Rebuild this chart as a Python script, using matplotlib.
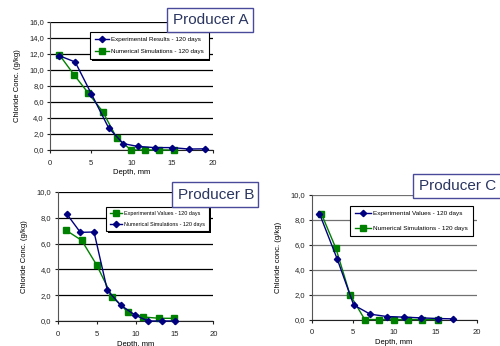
import matplotlib
matplotlib.use("Agg")
import matplotlib.pyplot as plt
from matplotlib.patches import Rectangle
from matplotlib.ticker import FuncFormatter

plt.rcParams['font.family'] = ['Liberation Sans', 'DejaVu Sans']

# ---- Producer A ----
a_exp_x = [1.1, 3.1, 5.1, 7.2, 9.0, 10.8, 12.9, 15.0, 17.1, 19.1]
a_exp_y = [11.8, 11.0, 7.0, 2.8, 0.8, 0.45, 0.3, 0.3, 0.12, 0.15]
a_num_x = [1.15, 2.96, 4.72, 6.49, 8.21, 9.98, 11.66, 13.47, 15.2]
a_num_y = [11.9, 9.4, 7.1, 4.8, 1.5, 0.0, 0.0, 0.0, 0.0]
a_labels = ["Experimental Results - 120 days", "Numerical Simulations - 120 days"]

# ---- Producer B ----
b_exp_x = [1.03, 3.08, 5.01, 7.02, 8.99, 11.0, 13.06, 15.0]
b_exp_y = [7.05, 6.25, 4.34, 1.86, 0.72, 0.31, 0.21, 0.21]
b_num_x = [1.2, 2.91, 4.67, 6.38, 8.09, 9.89, 11.6, 13.36, 15.07]
b_num_y = [8.27, 6.87, 6.9, 2.38, 1.24, 0.47, 0.0, 0.0, 0.0]
b_labels = ["Experimental Values - 120 days", "Numerical Simulations - 120 days"]

# ---- Producer C ----
c_exp_x = [0.94, 3.1, 5.09, 7.09, 9.12, 11.2, 13.28, 15.3, 17.2]
c_exp_y = [8.51, 4.85, 1.17, 0.43, 0.24, 0.19, 0.13, 0.08, 0.05]
c_num_x = [1.18, 2.93, 4.64, 6.44, 8.15, 9.94, 11.65, 13.44, 15.27]
c_num_y = [8.48, 5.73, 2.0, 0.0, 0.0, 0.0, 0.0, 0.0, 0.0]
c_labels = ["Experimental Values - 120 days", "Numerical Simulations - 120 days"]

x_ticks = [0, 5, 10, 15, 20]

W, H = 500, 346
fig = plt.figure(figsize=(W / 100, H / 100), dpi=100)

BLUE = '#000080'
GREEN = '#008000'


def ax_px(l, r, t, b):
    return fig.add_axes([l / W, 1 - b / H, (r - l) / W, (b - t) / H])


def style(ax, ymax, ylabel, gridc):
    ax.set_xlim(0, 20)
    ax.set_ylim(0, ymax)
    ax.set_xticks(x_ticks)
    ax.set_yticks([v for v in range(0, int(ymax) + 1, 2)])
    ax.yaxis.set_major_formatter(FuncFormatter(lambda v, p: f"{v:.1f}".replace('.', ',')))
    ax.tick_params(labelsize=5.5, length=2, width=0.8, direction='out', colors='#222222')
    ax.tick_params(axis='x', pad=5)
    ax.tick_params(axis='y', pad=2.5)
    for s in ['top', 'right']:
        ax.spines[s].set_visible(False)
    ax.spines['left'].set_color('#555555')
    ax.spines['bottom'].set_color('#222222')
    ax.yaxis.grid(True, color=gridc, linewidth=0.9)
    ax.set_axisbelow(True)
    ax.set_ylabel(ylabel, fontsize=5.5, labelpad=6)
    ax.set_xlabel("Depth, mm", fontsize=5.5, labelpad=2)
    ax.patch.set_alpha(0)


def plot_series(ax, x, y, kind, label):
    if kind == 'b':
        ax.plot(x, y, color=BLUE, marker='D', markersize=3.2, linewidth=1.0, label=label, clip_on=False, zorder=4)
    else:
        ax.plot(x, y, color=GREEN, marker='s', markersize=4.5, linewidth=1.0, label=label, clip_on=False, zorder=3)


legends = []


def legend(ax, x0, y0, fs, hl_px, spacing):
    fs_px = fs * 100 / 72
    leg = ax.legend(loc='upper left', bbox_to_anchor=(x0 / W, 1 - y0 / H), bbox_transform=fig.transFigure,
                    fontsize=fs, frameon=True, fancybox=False, edgecolor='black', framealpha=1,
                    shadow=False, handlelength=hl_px / fs_px, labelspacing=spacing,
                    borderpad=0.8, handletextpad=0.3, borderaxespad=0)
    leg.get_frame().set_linewidth(0.8)
    leg.set_zorder(6)
    legends.append((ax, leg))


def label_box(x0, x1, y0, y1, text):
    r = Rectangle((x0 / W, 1 - y1 / H), (x1 - x0) / W, (y1 - y0) / H, transform=fig.transFigure,
                  facecolor='white', edgecolor='#4a4a9a', linewidth=1.0, zorder=10)
    fig.patches.append(r)
    fig.text((x0 + 6) / W, 1 - ((y0 + y1) / 2 + 0.5) / H, text, fontsize=11, color='#2a3560',
             ha='left', va='center', zorder=11)


# A
axA = ax_px(50, 212.5, 22, 150)
style(axA, 16, "Chloride Conc. (g/kg)", 'black')
plot_series(axA, a_exp_x, a_exp_y, 'b', a_labels[0])
plot_series(axA, a_num_x, a_num_y, 'g', a_labels[1])
legend(axA, 90, 32, 4.5, 14, 1.0)
label_box(167, 253, 8, 32, "Producer A")

# B
axB = ax_px(57.7, 213.3, 192, 321)
style(axB, 10, "Chloride Conc. (g/kg)", 'black')
plot_series(axB, b_exp_x, b_exp_y, 'g', b_labels[0])
plot_series(axB, b_num_x, b_num_y, 'b', b_labels[1])
legend(axB, 106, 207, 3.9, 12, 1.0)
label_box(172, 258, 182, 207, "Producer B")

# C
axC = ax_px(311.7, 476.5, 195, 319.5)
style(axC, 10, "Chloride conc. (g/kg)", '#707070')
plot_series(axC, c_exp_x, c_exp_y, 'b', c_labels[0])
plot_series(axC, c_num_x, c_num_y, 'g', c_labels[1])
legend(axC, 350, 206, 4.55, 16, 1.4)
label_box(413, 502, 174, 198, "Producer C")

# thin black drop shadows behind legends
fig.canvas.draw()
renderer = fig.canvas.get_renderer()
for ax, leg in legends:
    bb = leg.get_frame().get_window_extent(renderer)
    sh = Rectangle((bb.x0 + 1.5, bb.y0 - 1.5), bb.width, bb.height, transform=None,
                   facecolor='black', edgecolor='none', zorder=5.9, clip_on=False)
    ax.add_artist(sh)

fig.savefig("out.png", dpi=100)
